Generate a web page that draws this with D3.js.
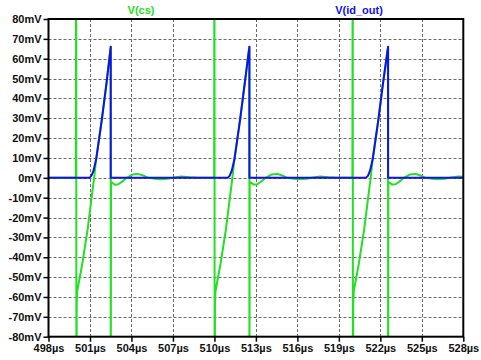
<!DOCTYPE html>
<html>
<head>
<meta charset="utf-8">
<script src="https://cdn.jsdelivr.net/npm/d3@7"></script>
<style>
  html, body { margin: 0; padding: 0; background: #fff; }
  svg { display: block; }
  text { font-family: "Liberation Sans", Arial, sans-serif; font-weight: bold; }
</style>
</head>
<body>
<div id="chart"></div>
<script>
// Axis ticks
const xTicks = [498, 501, 504, 507, 510, 513, 516, 519, 522, 525, 528];
const yTicks = [-80, -70, -60, -50, -40, -30, -20, -10, 0, 10, 20, 30, 40, 50, 60, 70, 80];

// Trace names
const traceNames = ["V(cs)", "V(id_out)"];

// V(cs): time in µs, value in mV
const csTime = [
  498, 499.98, 500.0, 500.02, 500.04, 500.08, 500.45, 500.83, 501.1, 501.3, 501.45, 501.85, 502.2, 502.45, 502.5,
  502.5, 502.52, 502.8, 503.05, 503.4, 503.66, 504.1, 504.45, 504.85, 505.2, 505.7, 506.1, 506.6, 507.1, 507.6, 508.2, 508.8,
  509.98, 510.0, 510.02, 510.04, 510.08, 510.45, 510.83, 511.1, 511.3, 511.45, 511.85, 512.2, 512.47, 512.53,
  512.53, 512.55, 512.85, 513.1, 513.45, 513.7, 514.15, 514.55, 514.9, 515.25, 515.75, 516.15, 516.65, 517.15, 517.65, 518.25, 518.85,
  519.98, 520.0, 520.02, 520.04, 520.08, 520.45, 520.83, 521.1, 521.3, 521.45, 521.85, 522.2, 522.5, 522.56,
  522.56, 522.58, 522.85, 523.1, 523.45, 523.7, 524.15, 524.55, 524.9, 525.25, 525.75, 526.15, 526.65, 527.15, 527.65, 528
];
const csValue = [
  0, 0, 150, -150, -63, -57, -43, -26, -11, 0, 9.5, 29, 48, 63, 66,
  -150, -2, -3.5, -3.2, -1.5, 0, 1.7, 2, 1.2, 0, -0.5, -0.7, -0.5, 0.2, 0.7, 0.3, 0,
  0, 150, -150, -63, -57, -43, -26, -11, 0, 9.5, 29, 48, 63, 66,
  -150, -2, -3.4, -3.2, -1.5, 0, 1.7, 2, 1.2, 0, -0.5, -0.7, -0.5, 0.2, 0.7, 0.3, 0,
  0, 150, -150, -63, -57, -43, -26, -11, 0, 9.5, 29, 48, 63, 66,
  -150, -2, -3.4, -3.2, -1.5, 0, 1.7, 2, 1.2, 0, -0.5, -0.7, -0.5, 0.2, 0.7, 0.5
];

// V(id_out): time in µs, value in mV
const idTime = [
  498, 500.95, 501.1, 501.25, 501.45, 501.85, 502.2, 502.45, 502.5, 502.5,
  510.95, 511.1, 511.25, 511.45, 511.85, 512.2, 512.47, 512.53, 512.53,
  520.95, 521.1, 521.25, 521.45, 521.85, 522.2, 522.5, 522.56, 522.56, 528
];
const idValue = [
  0, 0, 1, 3.5, 9.5, 29, 48, 63, 66, 0,
  0, 1, 3.5, 9.5, 29, 48, 63, 66, 0,
  0, 1, 3.5, 9.5, 29, 48, 63, 66, 0, 0
];

const W = 481, H = 360;
const plot = { left: 48.5, right: 463.3, top: 19, bottom: 336.7 };
const green = "#22e022", blue = "#1010f0";

const svg = d3.select("#chart").append("svg")
  .attr("width", W).attr("height", H);

const x = d3.scaleLinear().domain([498, 528]).range([plot.left, plot.right]);
const y = d3.scaleLinear().domain([-80, 80]).range([plot.bottom, plot.top]);

// Grid
const grid = svg.append("g")
  .attr("stroke", "#6a6a6a").attr("stroke-width", 1).attr("stroke-dasharray", "3,2");
grid.selectAll("line.h").data(yTicks.slice(1, -1)).enter().append("line")
  .attr("x1", plot.left).attr("x2", plot.right)
  .attr("y1", d => Math.round(y(d)) + 0.5).attr("y2", d => Math.round(y(d)) + 0.5);
grid.selectAll("line.v").data(xTicks.slice(1, -1)).enter().append("line")
  .attr("y1", plot.top).attr("y2", plot.bottom)
  .attr("x1", d => Math.round(x(d)) + 0.5).attr("x2", d => Math.round(x(d)) + 0.5);

// Traces
svg.append("clipPath").attr("id", "clip").append("rect")
  .attr("x", plot.left).attr("y", plot.top)
  .attr("width", plot.right - plot.left).attr("height", plot.bottom - plot.top);

const line = d3.line().x(d => x(d[0])).y(d => y(d[1]));
const csPts = csTime.map((t, i) => [t, csValue[i]]);
const idPts = idTime.map((t, i) => [t, idValue[i]]);

const traces = svg.append("g").attr("clip-path", "url(#clip)");
traces.append("path").datum(csPts).attr("d", line)
  .attr("fill", "none").attr("stroke", green).attr("stroke-width", 2).attr("stroke-linejoin", "round");
traces.append("path").datum(idPts).attr("d", line)
  .attr("fill", "none").attr("stroke", blue).attr("stroke-width", 2).attr("stroke-linejoin", "round");

// Axes
const yAxis = d3.axisLeft(y).tickValues(yTicks).tickFormat(d => d + "mV").tickSize(5).tickPadding(2);
const gy = svg.append("g").attr("transform", `translate(${plot.left},0)`).call(yAxis);
gy.select(".domain").remove();
gy.selectAll("line").attr("stroke", "#000").attr("stroke-width", 1.5);
gy.selectAll("text").attr("font-size", 11).attr("fill", "#111");

const xAxis = d3.axisBottom(x).tickValues(xTicks).tickFormat(d => d + "µs").tickSize(5).tickPadding(3);
const gx = svg.append("g").attr("transform", `translate(0,${plot.bottom})`).call(xAxis);
gx.select(".domain").remove();
gx.selectAll("line").attr("stroke", "#000").attr("stroke-width", 1.5);
gx.selectAll("text").attr("font-size", 11).attr("fill", "#111");

// Frame
svg.append("rect")
  .attr("x", plot.left).attr("y", plot.top)
  .attr("width", plot.right - plot.left).attr("height", plot.bottom - plot.top)
  .attr("fill", "none").attr("stroke", "#000").attr("stroke-width", 2);

// Trace titles
svg.append("text").attr("x", 141).attr("y", 14).attr("text-anchor", "middle")
  .attr("font-size", 11).attr("fill", green).text(traceNames[0]);
svg.append("text").attr("x", 359).attr("y", 14).attr("text-anchor", "middle")
  .attr("font-size", 11).attr("fill", blue).text(traceNames[1]);
</script>
</body>
</html>
